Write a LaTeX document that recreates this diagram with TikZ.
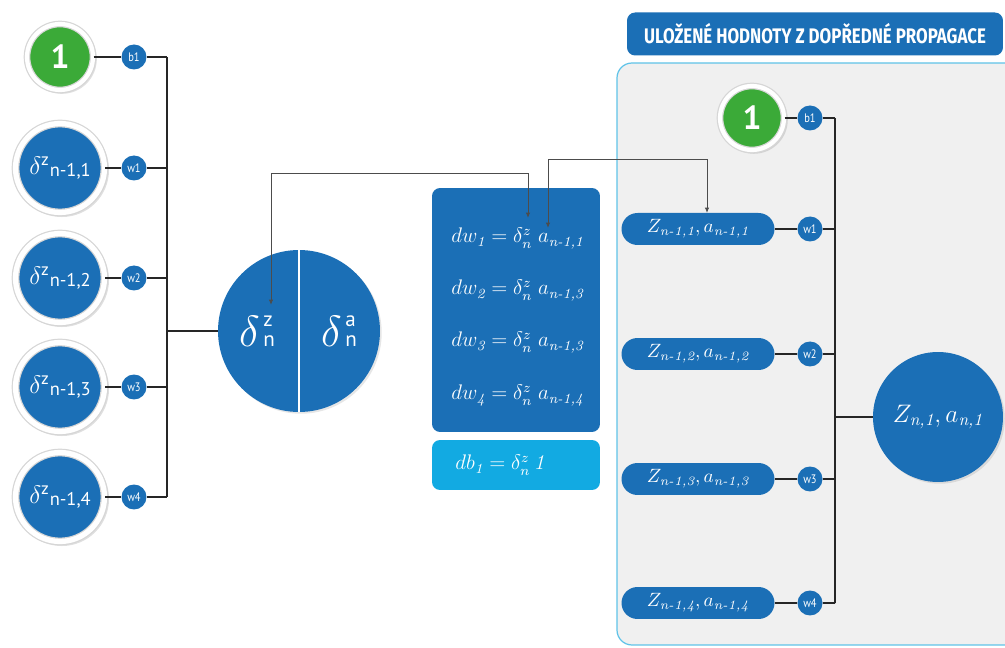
\documentclass[tikz,border=0pt]{standalone}
\usepackage{amsmath}
\usepackage{fontspec}
\setsansfont{PT Sans}
\newfontfamily\titlefont[FakeStretch=0.8]{Fira Sans}
\newfontfamily\dotfont[FakeStretch=0.85]{PT Sans}
\usetikzlibrary{arrows.meta, positioning, calc, shapes.misc, shadows}

\definecolor{nnblue}{RGB}{27,111,182}
\definecolor{nngreen}{RGB}{59,170,56}
\definecolor{nncyan}{RGB}{18,170,226}
\definecolor{nnpanel}{RGB}{240,240,240}
\definecolor{nnedge}{RGB}{95,195,232}

\newcommand{\dlabel}[1]{%
  % #1 = index of the input neuron
  {\fontsize{14}{16}\selectfont$\delta^{\textsf{z}}$}%
  \raisebox{-1.5pt}{\sffamily\fontsize{10.5}{12}\selectfont n-1,#1}}
\newcommand{\dsplit}[1]{%
  % #1 = upper index (z or a)
  {\fontsize{24}{28}\selectfont$\delta$}\hspace{2pt}%
  \rlap{\raisebox{11.5pt}{\sffamily\fontsize{12}{12}\selectfont #1}}%
  {\sffamily\fontsize{12}{12}\selectfont n}}

\tikzset{
  ringed/.style={circle, fill=#1, draw=black!16, double=white,
    double distance=3pt, line width=0.7pt, inner sep=0pt, text=white,
    drop shadow={opacity=0.25, shadow xshift=1pt, shadow yshift=-1pt, shadow scale=1.06}},
  wdot/.style={circle, fill=nnblue, text=white, minimum size=0.5cm,
    inner sep=0pt, font=\dotfont\fontsize{7}{8}\selectfont},
  wire/.style={draw=black!85, line width=0.9pt},
  link/.style={draw=black!70, line width=0.45pt,
    {Latex[length=3pt,width=2.4pt]}-{Latex[length=3pt,width=2.4pt]}},
  pill/.style={rounded rectangle, fill=nnblue, text=white, minimum width=3.06cm,
    minimum height=0.64cm, inner sep=0pt, font=\fontsize{10.5}{12}\selectfont},
  formula/.style={anchor=base west, text=white, inner sep=0pt,
    font=\fontsize{12}{14}\selectfont},
}

\begin{document}
\begin{tikzpicture}[x=0.02cm, y=-0.02cm, >=latex]
    \useasboundingbox (0,0) rectangle (1005,648);

    % panel with the stored values
    \draw[nnedge, fill=nnpanel, line width=0.7pt, rounded corners=0.3cm] (617,63) rectangle (1030,645);
    \node[fill=nnblue, rounded corners=0.16cm, minimum width=7.52cm, minimum height=0.86cm,
      text=white, font=\titlefont\bfseries\fontsize{12}{14}\selectfont] (title) at (815,34)
      {ULOŽENÉ HODNOTY Z DOPŘEDNÉ PROPAGACE};

    % left: bias and the four inputs
    \node[ringed=nngreen, minimum size=1.32cm, double distance=2.4pt,
      font=\sffamily\bfseries\fontsize{19}{20}\selectfont] (one) at (60,57) {1};
    \node[wdot] (b) at (134,57) {b1};
    \coordinate (bus) at (167,57);
    \draw[wire] (one) -- (b) -- (bus);

    \foreach \i/\y in {1/168, 2/278, 3/387, 4/497} {
      \node[ringed=nnblue, minimum size=1.78cm] (d\i) at (60,\y) {\dlabel{\i}};
      \node[wdot] (w\i) at (134,\y) {w\i};
      \coordinate (bus\i) at (167,\y);
      \draw[wire] (d\i) -- (w\i) -- (bus\i);
    }
    \draw[wire] (bus) -- (bus4);

    % split delta neuron
    \node[circle, fill=nnblue, minimum size=3.24cm,
      drop shadow={opacity=0.2, shadow xshift=1pt, shadow yshift=-1pt}] (dn) at (299,331) {};
    \draw[white, line width=1pt] (dn.north) -- (dn.south);
    \node[text=white] (dnz) at (257,331) {\dsplit{z}};
    \node[text=white] (dna) at (339,331) {\dsplit{a}};
    \coordinate (busm) at (167,331);
    \draw[wire] (busm) -- (dn);

    % gradients
    \node[fill=nnblue, rounded corners=0.16cm, minimum width=3.36cm, minimum height=4.88cm] (dwbox) at (516,310) {};
    \node[fill=nncyan, rounded corners=0.16cm, minimum width=3.36cm, minimum height=1cm] (dbbox) at (516,465) {};
    \node[formula] (dw1) at (451,243) {$dw_{\mathit{1}} = \delta^{z}_{n}\; a_{\textit{n-1,1}}$};
    \node[formula] (dw2) at (451,295) {$dw_{\mathit{2}} = \delta^{z}_{n}\; a_{\textit{n-1,3}}$};
    \node[formula] (dw3) at (451,347) {$dw_{\mathit{3}} = \delta^{z}_{n}\; a_{\textit{n-1,3}}$};
    \node[formula] (dw4) at (451,400) {$dw_{\mathit{4}} = \delta^{z}_{n}\; a_{\textit{n-1,4}}$};
    \node[formula] (db1) at (455,470) {$db_{\mathit{1}} = \delta^{z}_{n}\, \mathit{1}$};

    % right: stored forward values
    \node[ringed=nngreen, minimum size=1.28cm, double distance=2.4pt,
      font=\sffamily\bfseries\fontsize{19}{20}\selectfont] (rone) at (752,118) {1};
    \node[wdot] (rb) at (810,118) {b1};
    \coordinate (rbus) at (835,118);
    \draw[wire] (rone) -- (rb) -- (rbus);

    \foreach \i/\y in {1/229, 2/354, 3/479, 4/603} {
      \node[pill] (p\i) at (698,\y) {$Z_{\textit{n-1,\i}}, a_{\textit{n-1,\i}}$};
      \node[wdot] (rw\i) at (810,\y) {w\i};
      \coordinate (rbus\i) at (835,\y);
      \draw[wire] (p\i) -- (rw\i) -- (rbus\i);
    }
    \draw[wire] (rbus) -- (rbus4);

    \node[circle, fill=nnblue, text=white, minimum size=2.6cm, font=\fontsize{14}{16}\selectfont,
      drop shadow={opacity=0.2, shadow xshift=1pt, shadow yshift=-1pt}] (zn) at (938,417)
      {$Z_{\textit{n,1}}, a_{\textit{n,1}}$};
    \coordinate (rbusm) at (835,417);
    \draw[wire] (rbusm) -- (zn);

    % links between the stored values and the formula
    \coordinate (dzin) at (271,305);
    \coordinate (dzout) at (528,218);
    \coordinate (aout) at (548,228);
    \coordinate (apill) at (707,213);
    \draw[link] (dzin) -- ++(0,-132) -| (dzout);
    \draw[link] (aout) -- ++(0,-69) -| (apill);

\end{tikzpicture}
\end{document}
